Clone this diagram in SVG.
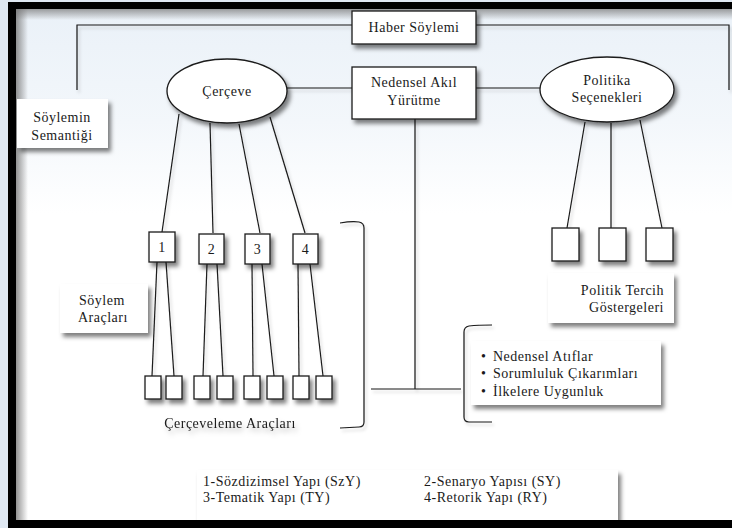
<svg xmlns="http://www.w3.org/2000/svg" width="732" height="528" viewBox="0 0 732 528">
<defs>
<style>
text{font-family:"Liberation Serif","Times New Roman",serif;font-size:14px;fill:#1a1a1a;letter-spacing:0.5px}
.m{text-anchor:middle}
.e{text-anchor:end}
.box{fill:#fff;stroke:#1a1a1a;stroke-width:1.3}
.nb{fill:#fff;stroke:none}
.ln{fill:none;stroke:#1a1a1a;stroke-width:1.2}
</style>
<filter id="sh" x="-30%" y="-30%" width="170%" height="180%">
<feDropShadow dx="3" dy="4" stdDeviation="2" flood-color="#000" flood-opacity="0.5"/>
</filter>
<filter id="lsh" x="-20%" y="-20%" width="150%" height="150%">
<feDropShadow dx="2" dy="3" stdDeviation="1.5" flood-color="#000" flood-opacity="0.18"/>
</filter>
<filter id="tsh" x="-10%" y="-50%" width="120%" height="200%">
<feDropShadow dx="2" dy="4" stdDeviation="2.5" flood-color="#000" flood-opacity="0.25"/>
</filter>
<linearGradient id="bg" x1="0" y1="0" x2="0" y2="1">
<stop offset="0" stop-color="#eaf1f8"/>
<stop offset="0.22" stop-color="#f3f7fb"/>
<stop offset="0.4" stop-color="#ffffff"/>
<stop offset="1" stop-color="#ffffff"/>
</linearGradient>
<linearGradient id="lsd" x1="0" y1="0" x2="1" y2="0">
<stop offset="0" stop-color="#777" stop-opacity="0.8"/>
<stop offset="1" stop-color="#777" stop-opacity="0"/>
</linearGradient>
<linearGradient id="tsd" x1="0" y1="0" x2="0" y2="1">
<stop offset="0" stop-color="#777" stop-opacity="0.7"/>
<stop offset="1" stop-color="#777" stop-opacity="0"/>
</linearGradient>
</defs>

<!-- frame -->
<rect x="0" y="0" width="732" height="528" fill="#dfe8f2"/>
<rect x="8" y="2" width="730" height="526" fill="#000"/>
<rect x="16" y="9" width="720" height="511" fill="url(#bg)"/>
<rect x="16" y="9" width="12" height="511" fill="url(#lsd)"/>
<rect x="16" y="9" width="720" height="11" fill="url(#tsd)"/>

<!-- connectors -->
<g id="connectors" class="ln" filter="url(#lsh)">
<polyline points="352,25 77,25 77,90"/>
<polyline points="476,25 729,25 729,90"/>
<line x1="287" y1="88" x2="352" y2="88"/>
<line x1="476" y1="88" x2="540" y2="88"/>
<polyline points="415,119 415,389"/>
<line x1="371" y1="389" x2="461" y2="389"/>
<line x1="179" y1="114" x2="162" y2="232"/>
<line x1="210" y1="123" x2="213" y2="233"/>
<line x1="239" y1="124" x2="260" y2="233"/>
<line x1="270" y1="117" x2="305" y2="233"/>
<line x1="585" y1="122" x2="567" y2="228"/>
<line x1="611" y1="123" x2="611" y2="228"/>
<line x1="640" y1="120" x2="662" y2="228"/>
<line x1="157" y1="262" x2="152" y2="376"/>
<line x1="166" y1="262" x2="174" y2="376"/>
<line x1="207" y1="264" x2="203" y2="376"/>
<line x1="217" y1="264" x2="223" y2="376"/>
<line x1="252" y1="264" x2="253" y2="376"/>
<line x1="262" y1="264" x2="274" y2="376"/>
<line x1="298" y1="264" x2="299" y2="376"/>
<line x1="310" y1="264" x2="323" y2="376"/>
<path d="M340,223 Q352,221 359,222 Q364,223 364,228 L364,422 Q364,427 359,427 L340,428"/>
<path d="M492,325 Q478,325 469,326 Q464,327 464,332 L464,417 Q464,422 469,422 L492,422"/>
</g>

<g id="haber"><rect class="box" x="352" y="11" width="124" height="33" filter="url(#sh)"/><text class="m" x="414" y="32">Haber Söylemi</text></g>
<g id="semantik"><rect class="nb" x="17" y="99" width="91" height="49" filter="url(#sh)"/><text class="m" x="62" y="122">Söylemin</text><text class="m" x="62" y="140">Semantiği</text></g>
<g id="cerceve"><ellipse class="box" cx="227" cy="91" rx="60" ry="32" filter="url(#sh)"/><text class="m" x="227" y="96">Çerçeve</text></g>
<g id="nedensel"><rect class="box" x="352" y="67" width="124" height="52" filter="url(#sh)"/><text class="m" x="414" y="87">Nedensel Akıl</text><text class="m" x="414" y="105">Yürütme</text></g>
<g id="politika"><ellipse class="box" cx="607" cy="89.5" rx="67" ry="32.5" filter="url(#sh)"/><text class="m" x="607" y="85">Politika</text><text class="m" x="607" y="102">Seçenekleri</text></g>

<g id="n1"><rect class="box" x="149" y="232" width="26" height="30" filter="url(#sh)"/><text class="m" x="162" y="252">1</text></g>
<g id="n2"><rect class="box" x="199" y="234" width="25" height="30" filter="url(#sh)"/><text class="m" x="211.5" y="254">2</text></g>
<g id="n3"><rect class="box" x="245" y="234" width="25" height="30" filter="url(#sh)"/><text class="m" x="257.5" y="254">3</text></g>
<g id="n4"><rect class="box" x="293" y="234" width="25" height="30" filter="url(#sh)"/><text class="m" x="305.5" y="254">4</text></g>

<g id="c1"><rect class="box" x="145" y="376" width="16" height="23" filter="url(#sh)"/></g>
<g id="c2"><rect class="box" x="166" y="376" width="16" height="23" filter="url(#sh)"/></g>
<g id="c3"><rect class="box" x="194" y="376" width="16" height="23" filter="url(#sh)"/></g>
<g id="c4"><rect class="box" x="217" y="376" width="16" height="23" filter="url(#sh)"/></g>
<g id="c5"><rect class="box" x="244" y="376" width="16" height="23" filter="url(#sh)"/></g>
<g id="c6"><rect class="box" x="267" y="376" width="16" height="23" filter="url(#sh)"/></g>
<g id="c7"><rect class="box" x="293" y="376" width="16" height="23" filter="url(#sh)"/></g>
<g id="c8"><rect class="box" x="316" y="376" width="16" height="23" filter="url(#sh)"/></g>

<g id="p1"><rect class="box" x="552" y="228" width="27" height="33" filter="url(#sh)"/></g>
<g id="p2"><rect class="box" x="599" y="228" width="27" height="33" filter="url(#sh)"/></g>
<g id="p3"><rect class="box" x="646" y="228" width="27" height="33" filter="url(#sh)"/></g>

<g id="soylem-araclari"><rect class="nb" x="60" y="284" width="88" height="49" filter="url(#sh)"/><text x="79" y="305">Söylem</text><text x="78" y="322">Araçları</text></g>
<g id="politik-tercih"><rect class="nb" x="548" y="273" width="126" height="50" filter="url(#sh)"/><text class="e" x="664" y="295">Politik Tercih</text><text class="e" x="664" y="312">Göstergeleri</text></g>
<g id="cerceveleme"><text class="m" x="230" y="428" filter="url(#tsh)">Çerçeveleme Araçları</text></g>
<g id="liste"><rect class="nb" x="471" y="341" width="190" height="64" filter="url(#sh)"/>
<text x="481" y="361">•</text><text x="493" y="361">Nedensel Atıflar</text>
<text x="481" y="378">•</text><text x="493" y="378">Sorumluluk Çıkarımları</text>
<text x="481" y="396">•</text><text x="493" y="396">İlkelere Uygunluk</text></g>
<g id="legend"><rect class="nb" x="197" y="470" width="421" height="50" filter="url(#sh)"/>
<text x="203" y="486">1-Sözdizimsel Yapı (SzY)</text><text x="203" y="502">3-Tematik Yapı (TY)</text>
<text x="424" y="486">2-Senaryo Yapısı (SY)</text><text x="424" y="502">4-Retorik Yapı (RY)</text></g>
<rect x="8" y="520" width="730" height="8" fill="#000"/>
</svg>
